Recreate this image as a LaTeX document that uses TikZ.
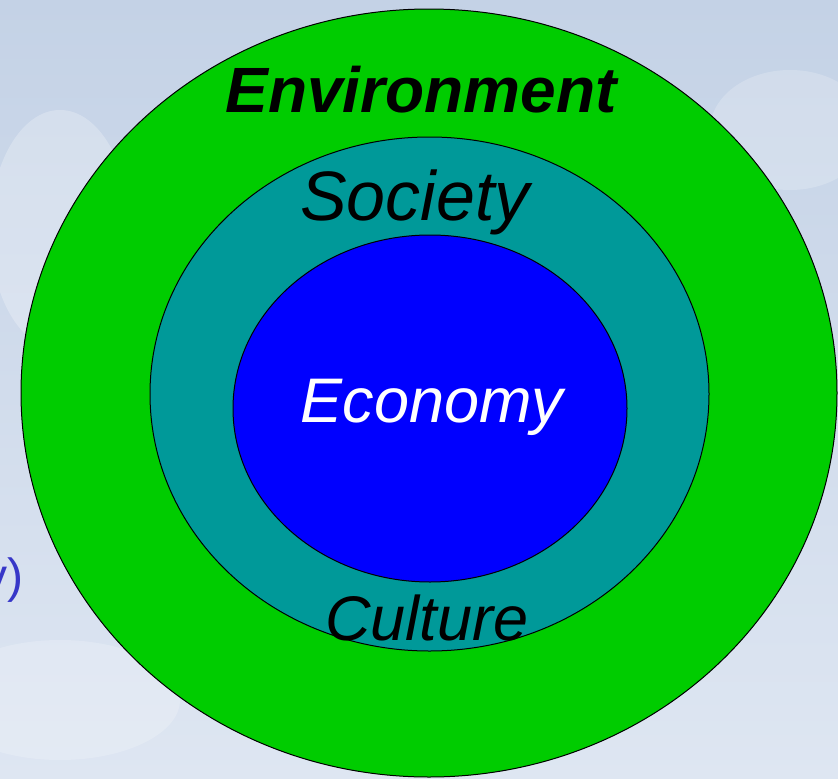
\documentclass[tikz,border=0pt]{standalone}
\usepackage{fontspec}
\setmainfont{Liberation Sans}
\usetikzlibrary{shapes.geometric}
\definecolor{envgreen}{RGB}{0,204,0}
\definecolor{socteal}{RGB}{0,153,153}
\definecolor{ecoblue}{RGB}{0,0,255}
\definecolor{bgtop}{RGB}{196,210,230}
\definecolor{bgbot}{RGB}{222,230,242}
\definecolor{sidetext}{RGB}{55,55,200}
\tikzset{
  ring/.style={ellipse, draw=black, line width=1pt, inner sep=0pt},
  lbl/.style={anchor=base, inner sep=0pt, font=\itshape}
}
\begin{document}
\begin{tikzpicture}[x=1pt,y=-1pt]
\useasboundingbox (0,0) rectangle (838,779);
\clip (0,0) rectangle (838,779);
\shade[top color=bgtop, bottom color=bgbot] (0,0) rectangle (838,779);
\fill[white, opacity=0.25] (60,230) ellipse [x radius=70, y radius=120];
\fill[white, opacity=0.2] (790,130) ellipse [x radius=80, y radius=60];
\fill[white, opacity=0.2] (60,700) ellipse [x radius=120, y radius=60];
\node[lbl, anchor=base east, text=sidetext, font=\fontsize{48}{48}\selectfont] (side) at (24,592) {y)};
\node[ring, fill=envgreen, minimum width=816pt, minimum height=768pt] (env) at (429,393) {};
\node[ring, fill=socteal, minimum width=559pt, minimum height=514pt] (soc) at (429.5,394) {};
\node[ring, fill=ecoblue, minimum width=394pt, minimum height=347pt] (eco) at (430,408.5) {};
\node[lbl, font=\bfseries\itshape\fontsize{64}{64}\selectfont] (envt) at (421,112) {Environment};
\node[lbl, font=\itshape\fontsize{70}{70}\selectfont] (soct) at (415,220) {Society};
\node[lbl, text=white, font=\itshape\fontsize{63}{63}\selectfont] (ecot) at (432,422) {Economy};
\node[lbl, font=\itshape\fontsize{63}{63}\selectfont] (cult) at (427,640) {Culture};
\end{tikzpicture}
\end{document}
